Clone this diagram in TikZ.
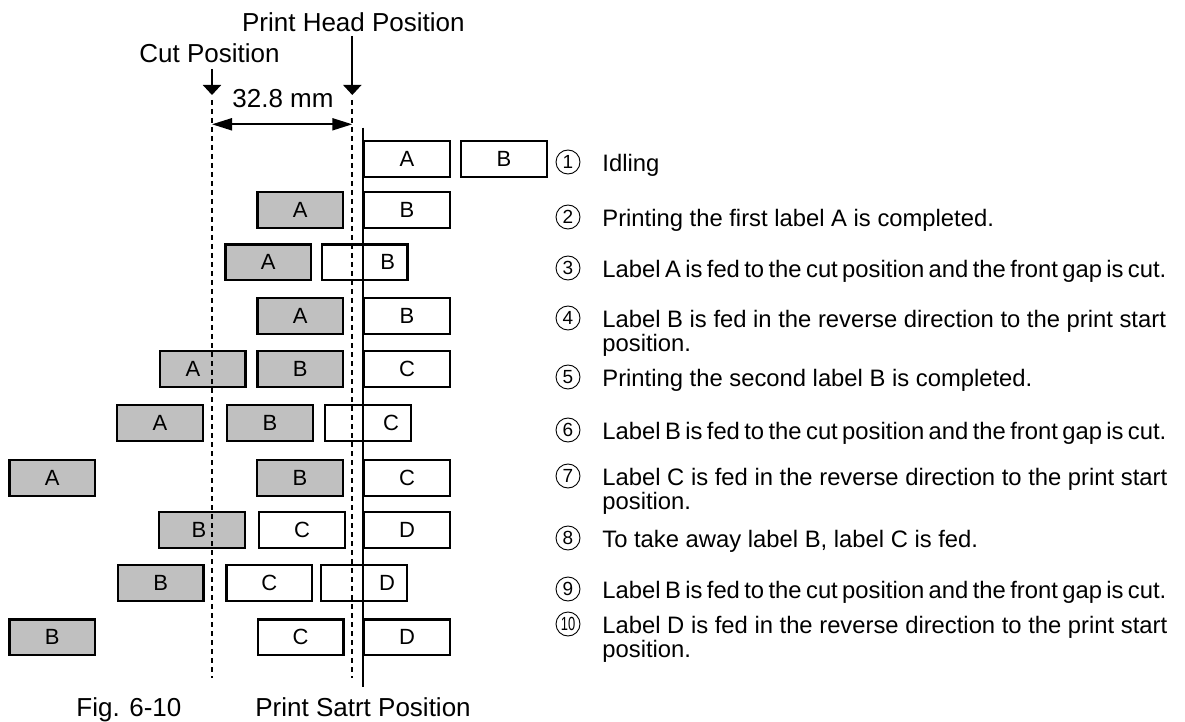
\documentclass[tikz,border=0pt]{standalone}
\usepackage{fontspec}
\setmainfont{Liberation Sans}
\usepackage{graphicx}
\usepackage{tikz}
\usetikzlibrary{positioning,arrows.meta,calc}
\definecolor{cutgray}{HTML}{C0C0C0}
\newcommand{\tape}[6][0]{% #1 letter shift, #2 name, #3 left x, #4 top y, #5 fill, #6 letter
  \node[lblbox, fill=#5] (#2) at (#3,#4) {};
  \node[lbltext] (#2t) at ($(#2.center)+(#1,0)$) {#6};
}
\newcommand{\tight}[1]{{\spaceskip=0.185em\relax #1}}

\begin{document}
\begin{tikzpicture}[x=0.5pt,y=-0.5pt,
    lblbox/.style={draw, line width=1.15pt, minimum width=42.8pt, minimum height=17.9pt, inner sep=0pt, anchor=north west},
    lbltext/.style={font=\fontsize{11}{11}\selectfont, inner sep=0pt},
    guide/.style={line width=1.05pt, dash pattern=on 2.5pt off 2pt},
    head/.style={font=\fontsize{13}{13}\selectfont, inner sep=0pt},
    desc/.style={font=\fontsize{11.9}{12.25}\selectfont, inner sep=0pt, anchor=north west, align=left},
    numcirc/.style={circle, draw, line width=0.45pt, inner sep=0pt, minimum size=12pt, font=\fontsize{9.5}{9.5}\selectfont},
    posarrow/.style={line width=1pt, -{Triangle[length=5pt,width=9pt]}},
    dimarrow/.style={line width=1pt, {Triangle[length=10pt,width=6pt]}-{Triangle[length=10pt,width=6pt]}}]
  \useasboundingbox (0,0) rectangle (1185,722);

  % labels on the tape, one row per step
  \tape{r1a}{363}{140}{white}{A}
  \tape{r1b}{460}{140}{white}{B}
  \tape{r2a}{256.3}{191}{cutgray}{A}
  \tape{r2b}{363}{191}{white}{B}
  \tape{r3a}{224.3}{243.3}{cutgray}{A}
  \tape[23]{r3b}{320.7}{243.3}{white}{B}
  \tape{r4a}{256.3}{297}{cutgray}{A}
  \tape{r4b}{363}{297}{white}{B}
  \tape[-9.7]{r5a}{158.7}{350}{cutgray}{A}
  \tape{r5b}{256.3}{350}{cutgray}{B}
  \tape{r5c}{363}{350}{white}{C}
  \tape{r6a}{116}{404}{cutgray}{A}
  \tape{r6b}{226}{404}{cutgray}{B}
  \tape[23]{r6c}{324}{404}{white}{C}
  \tape{r7a}{8.3}{458.7}{cutgray}{A}
  \tape{r7b}{256}{458.7}{cutgray}{B}
  \tape{r7c}{363}{458.7}{white}{C}
  \tape[-3]{r8b}{158}{510.7}{cutgray}{B}
  \tape{r8c}{258}{510.7}{white}{C}
  \tape{r8d}{363}{510.7}{white}{D}
  \tape{r9b}{116.7}{564}{cutgray}{B}
  \tape{r9c}{225.3}{564}{white}{C}
  \tape[23]{r9d}{320}{564}{white}{D}
  \tape{r10b}{8.3}{618.3}{cutgray}{B}
  \tape{r10c}{256.7}{618.3}{white}{C}
  \tape{r10d}{363}{618.3}{white}{D}

  % positions
  \coordinate (cutT) at (212,100);
  \coordinate (cutB) at (212,678);
  \coordinate (headT) at (352.3,100);
  \coordinate (headB) at (352.3,678);
  \coordinate (startT) at (363,127.7);
  \coordinate (startB) at (363,686.7);
  \draw[guide] (cutT) -- (cutB);
  \draw[guide] (headT) -- (headB);
  \draw[line width=1pt] (startT) -- (startB);

  \node[head, anchor=base] (cut) at (209.5,62.7) {Cut Position};
  \node[head, anchor=base west] (phead) at (241.7,31.7) {Print Head Position};
  \coordinate (cutTip) at (212,95);
  \coordinate (headTip) at (352.3,95);
  \draw[posarrow] (cutTip |- 0,69) -- (cutTip);
  \draw[posarrow] (headTip |- 0,36) -- (headTip);

  \node[head, anchor=base] (gap) at (283,107.3) {32.8 mm};
  \draw[dimarrow] (cutT |- 0,124.3) -- (headT |- 0,124.3);

  \node[head, anchor=base west] (fig) at (76,716) {Fig. 6-10};
  \node[head, anchor=base west] (pstart) at (255,716) {Print Satrt Position};

  % steps
  \node[numcirc] (n1) at (568,162) {1};
  \node[desc] (d1) at (602,153.5) {Idling};
  \node[numcirc] (n2) at (568,217) {2};
  \node[desc] (d2) at (602,208.5) {Printing the first label A is completed.};
  \node[numcirc] (n3) at (568,268) {3};
  \node[desc] (d3) at (602,259.5) {\tight{Label A is fed to the cut position and the front gap is cut.}};
  \node[numcirc] (n4) at (568,318) {4};
  \node[desc] (d4) at (602,309.5) {Label B is fed in the reverse direction to the print start\\position.};
  \node[numcirc] (n5) at (568,377) {5};
  \node[desc] (d5) at (602,368.5) {Printing the second label B is completed.};
  \node[numcirc] (n6) at (568,430) {6};
  \node[desc] (d6) at (602,421.5) {\tight{Label B is fed to the cut position and the front gap is cut.}};
  \node[numcirc] (n7) at (568,476) {7};
  \node[desc] (d7) at (602,467.5) {Label C is fed in the reverse direction to the print start\\position.};
  \node[numcirc] (n8) at (568,538) {8};
  \node[desc] (d8) at (602,529.5) {To take away label B, label C is fed.};
  \node[numcirc] (n9) at (568,589) {9};
  \node[desc] (d9) at (602,580.5) {\tight{Label B is fed to the cut position and the front gap is cut.}};
  \node[numcirc] (n10) at (568,624) {\scalebox{0.68}[1]{10}};
  \node[desc] (d10) at (602,615.5) {Label D is fed in the reverse direction to the print start\\position.};
\end{tikzpicture}
\end{document}
